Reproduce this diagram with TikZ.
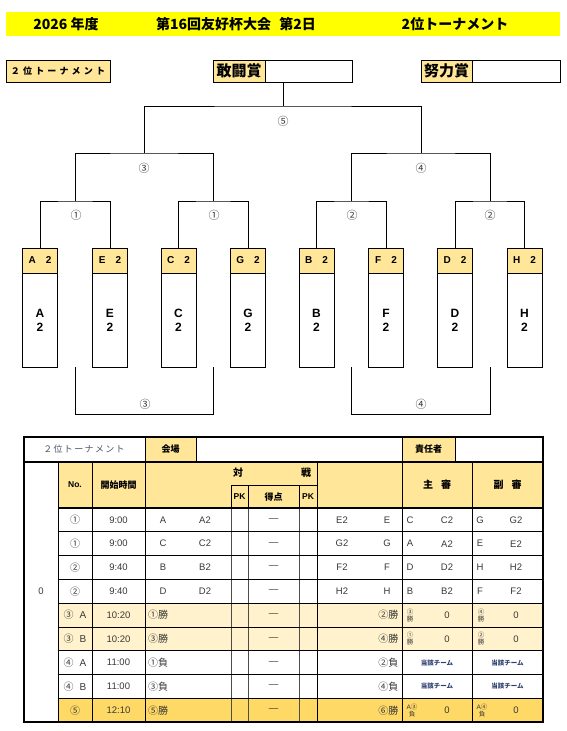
\documentclass[tikz,border=0pt]{standalone}
\usepackage{fontspec}
\setmainfont{Noto Sans CJK JP}
\newfontfamily\lat{Liberation Sans}
\definecolor{hdr}{HTML}{FFE699}
\definecolor{cream}{HTML}{FFF2CC}
\definecolor{gold}{HTML}{FFD966}
\definecolor{ban}{HTML}{FFFF00}
\definecolor{txt}{HTML}{383838}
\definecolor{navy}{HTML}{2F3F6F}
\definecolor{grayblue}{HTML}{4A5570}
\tikzset{
  ttl/.style={font=\bfseries\fontsize{14}{14}\selectfont, inner sep=0},
  br/.style={line width=1pt},
  tbox/.style={draw, line width=0.9pt, minimum width=35pt, minimum height=119pt, inner sep=0},
  thead/.style={draw, fill=hdr, line width=0.9pt, minimum width=35pt, minimum height=25pt, inner sep=0, font=\lat\bfseries\fontsize{10}{10}\selectfont},
  tbody/.style={font=\lat\bfseries\fontsize{12}{14}\selectfont, align=center, inner sep=0},
  circ/.style={font=\fontsize{11}{11}\selectfont, text=txt, inner sep=0},
  awl/.style={draw, fill=hdr, line width=0.8pt, minimum height=22pt, inner sep=0, font=\bfseries\fontsize{15}{15}\selectfont},
  awb/.style={draw, line width=0.8pt, minimum height=22pt, inner sep=0},
  hd/.style={font=\bfseries\fontsize{9}{9}\selectfont, inner sep=0},
  cell/.style={font=\lat\fontsize{9.5}{9.5}\selectfont, text=txt, inner sep=0},
  cj/.style={font=\fontsize{10}{10}\selectfont, text=txt, inner sep=0},
  tiny/.style={font=\fontsize{6.5}{7}\selectfont, text=txt, inner sep=0, align=center},
  tz/.style={font=\bfseries\fontsize{6.5}{6.5}\selectfont, text=navy, inner sep=0},
  hl/.style={line width=1.3pt},
  vl/.style={line width=1pt},
  pl/.style={line width=0.7pt, draw=black!70},
}
\begin{document}
\begin{tikzpicture}[x=1pt,y=-1pt]
\useasboundingbox (0,0) rectangle (566,731);
% banner
\fill[ban] (6,12) rectangle (560,36);
\node[ttl] (t1) at (66,24) {2026 年度};
\node[ttl] (t2) at (236,24) {第16回友好杯大会\hspace{0.6em}第2日};
\node[ttl] (t3) at (455,24) {2位トーナメント};
% left label
\node[draw, fill=hdr, line width=0.8pt, minimum width=104pt, minimum height=22pt, inner sep=0, font=\bfseries\fontsize{9}{9}\selectfont] (lab) at (58,71) {\addfontfeature{LetterSpace=35}２位トーナメント};
% awards
\node[awl, minimum width=52pt] (kanl) at (239,71) {敢闘賞};
\node[awb, minimum width=87pt] (kan) at (308.5,71) {};
\node[awl, minimum width=51pt] (dorl) at (446.5,71) {努力賞};
\node[awb, minimum width=88pt] (dor) at (516,71) {};
% team boxes
\foreach \n/\x in {A/40,E/110,C/178.5,G/248,B/316.5,F/386,D/455,H/524.5} {
  \node[tbox] (t\n) at (\x,307.5) {};
  \node[thead, anchor=north] (h\n) at (t\n.north) {\n\hspace{10pt}2};
  \node[tbody] (b\n) at (\x,320) {\n\\2};
}
% bracket junctions
\coordinate (p1) at (75,201);
\coordinate (p2) at (213,201);
\coordinate (p3) at (351.5,201);
\coordinate (p4) at (490,201);
\coordinate (q1) at (144,153);
\coordinate (q2) at (421,153);
\coordinate (top) at (283,106);
\draw[br] (tA.north) |- (p1) -| (tE.north);
\draw[br] (tC.north) |- (p2) -| (tG.north);
\draw[br] (tB.north) |- (p3) -| (tF.north);
\draw[br] (tD.north) |- (p4) -| (tH.north);
\draw[br] (p1) |- (q1) -| (p2);
\draw[br] (p3) |- (q2) -| (p4);
\draw[br] (q1) |- (top) -| (q2);
\draw[br] (top) -- (top |- kan.south);
% bracket labels
\node[circ] (c5) at (283,121) {⑤};
\node[circ] (c3) at (144,168) {③};
\node[circ] (c4) at (421,168) {④};
\node[circ] (c1a) at (76,215) {①};
\node[circ] (c1b) at (214,215) {①};
\node[circ] (c2a) at (352,215) {②};
\node[circ] (c2b) at (490,215) {②};
% lower brackets
\coordinate (l1) at (75,367);
\coordinate (l2) at (75,414);
\coordinate (l3) at (213,414);
\coordinate (l4) at (213,367);
\draw[line width=0.9pt] (l1) -- (l2) -- (l3) -- (l4);
\coordinate (r1) at (351.5,367);
\coordinate (r2) at (351.5,414);
\coordinate (r3) at (490,414);
\coordinate (r4) at (490,367);
\draw[line width=0.9pt] (r1) -- (r2) -- (r3) -- (r4);
\node[circ] (c3l) at (145,404) {③};
\node[circ] (c4l) at (421,404) {④};
% ================= table =================
\fill[hdr] (145,437) rectangle (196,462);
\fill[hdr] (402,437) rectangle (455,462);
\fill[hdr] (58,462) rectangle (543,508);
\fill[cream] (58,603.2) rectangle (543,650.8);
\fill[gold] (58,698.4) rectangle (543,722.2);
% row 1
\draw[hl] (24,462) -- (543,462);
\foreach \x in {145,196,402,455} \draw[vl] (\x,437) -- (\x,462);
% vertical lines
\foreach \x in {58,92,145,317,402,472} \draw[vl] (\x,462) -- (\x,722.2);
\foreach \x in {231,248,299} \draw[pl] (\x,485) -- (\x,722.2);
\draw[vl] (231,485) -- (231,508);
\draw[vl] (248,485) -- (248,508);
\draw[vl] (299,485) -- (299,508);
\draw[vl] (231,485) -- (317,485);
% horizontal lines
\foreach \y in {508,531.8,555.6,579.4,603.2,650.8,674.6,698.4} \draw[hl] (58,\y) -- (543,\y);
\draw[vl] (58,627) -- (543,627);
% outer
\draw[line width=1.6pt] (24,437) rectangle (543,722.2);
% row1 texts
\node[font=\fontsize{9}{9}\selectfont, text=grayblue, inner sep=0] (tt) at (84,449.5) {\addfontfeature{LetterSpace=15}２位トーナメント};
\node[hd] (kaijo) at (170.5,449.5) {会場};
\node[hd] (seki) at (428.5,449.5) {責任者};
% header texts
\node[font=\lat\bfseries\fontsize{8.5}{8.5}\selectfont, inner sep=0] (hno) at (75,485) {No.};
\node[hd] (hst) at (118.5,485) {開始時間};
\node[font=\bfseries\fontsize{10}{10}\selectfont, inner sep=0] (htai) at (238,473) {対};
\node[font=\bfseries\fontsize{10}{10}\selectfont, inner sep=0] (hsen) at (306,473) {戦};
\node[font=\lat\bfseries\fontsize{8.5}{8.5}\selectfont, inner sep=0] (hpk1) at (239.5,497) {PK};
\node[hd] (htk) at (273.5,497) {得点};
\node[font=\lat\bfseries\fontsize{8.5}{8.5}\selectfont, inner sep=0] (hpk2) at (308,497) {PK};
\node[font=\bfseries\fontsize{10}{10}\selectfont, inner sep=0] (hsh) at (437,485) {主\hspace{0.8em}審};
\node[font=\bfseries\fontsize{10}{10}\selectfont, inner sep=0] (hfk) at (507.5,485) {副\hspace{0.8em}審};
\node[cell] (zero) at (41,591) {0};
% rows 1-4
\foreach \r/\y/\cNo/\cTm/\cLa/\cLb/\cRa/\cRb/\cSa/\cSb/\cFa/\cFb in {
  1/519.9/①/9:00/A/A2/E2/E/C/C2/G/G2,
  2/543.7/①/9:00/C/C2/G2/G/A/A2/E/E2,
  3/567.5/②/9:40/B/B2/F2/F/D/D2/H/H2,
  4/591.3/②/9:40/D/D2/H2/H/B/B2/F/F2} {
  \node[cj] (no\r) at (75,\y) {\cNo};
  \node[cell] (tm\r) at (118.5,\y) {\cTm};
  \node[cell] (la\r) at (163,\y) {\cLa};
  \node[cell] (lb\r) at (205,\y) {\cLb};
  \node[cell] (sc\r) at (273.5,\y) {—};
  \node[cell] (ra\r) at (342,\y) {\cRa};
  \node[cell] (rb\r) at (387,\y) {\cRb};
  \node[cell] (sa\r) at (410,\y) {\cSa};
  \node[cell] (sb\r) at (447,\y) {\cSb};
  \node[cell] (fa\r) at (480,\y) {\cFa};
  \node[cell] (fb\r) at (516,\y) {\cFb};
}
% rows 5-9
\foreach \r/\y/\cNo/\cTm/\cL/\cR in {
  5/615.1/③\hspace{6pt}{\lat A}/10:20/①勝/②勝,
  6/638.9/③\hspace{6pt}{\lat B}/10:20/③勝/④勝,
  7/662.7/④\hspace{6pt}{\lat A}/11:00/①負/②負,
  8/686.5/④\hspace{6pt}{\lat B}/11:00/③負/④負,
  9/710.3/⑤/12:10/⑤勝/⑥勝} {
  \node[cj] (no\r) at (75,\y) {\cNo};
  \node[cell] (tm\r) at (118.5,\y) {\cTm};
  \node[cj, anchor=west] (la\r) at (148,\y) {\cL};
  \node[cell] (sc\r) at (273.5,\y) {—};
  \node[cj, anchor=east] (ra\r) at (398.5,\y) {\cR};
}
\node[tiny] (s5a) at (410,615.1) {③\\勝};
\node[cell] (s5b) at (447,615.1) {0};
\node[tiny] (f5a) at (481,615.1) {④\\勝};
\node[cell] (f5b) at (516,615.1) {0};
\node[tiny] (s6a) at (410,638.9) {①\\勝};
\node[cell] (s6b) at (447,638.9) {0};
\node[tiny] (f6a) at (481,638.9) {②\\勝};
\node[cell] (f6b) at (516,638.9) {0};
\node[tz] (s7) at (437,662.7) {当該チーム};
\node[tz] (f7) at (507.5,662.7) {当該チーム};
\node[tz] (s8) at (437,686.5) {当該チーム};
\node[tz] (f8) at (507.5,686.5) {当該チーム};
\node[tiny] (s9a) at (412,710.3) {{\lat A}③\\負};
\node[cell] (s9b) at (447,710.3) {0};
\node[tiny] (f9a) at (482,710.3) {{\lat A}④\\負};
\node[cell] (f9b) at (516,710.3) {0};
\end{tikzpicture}
\end{document}
